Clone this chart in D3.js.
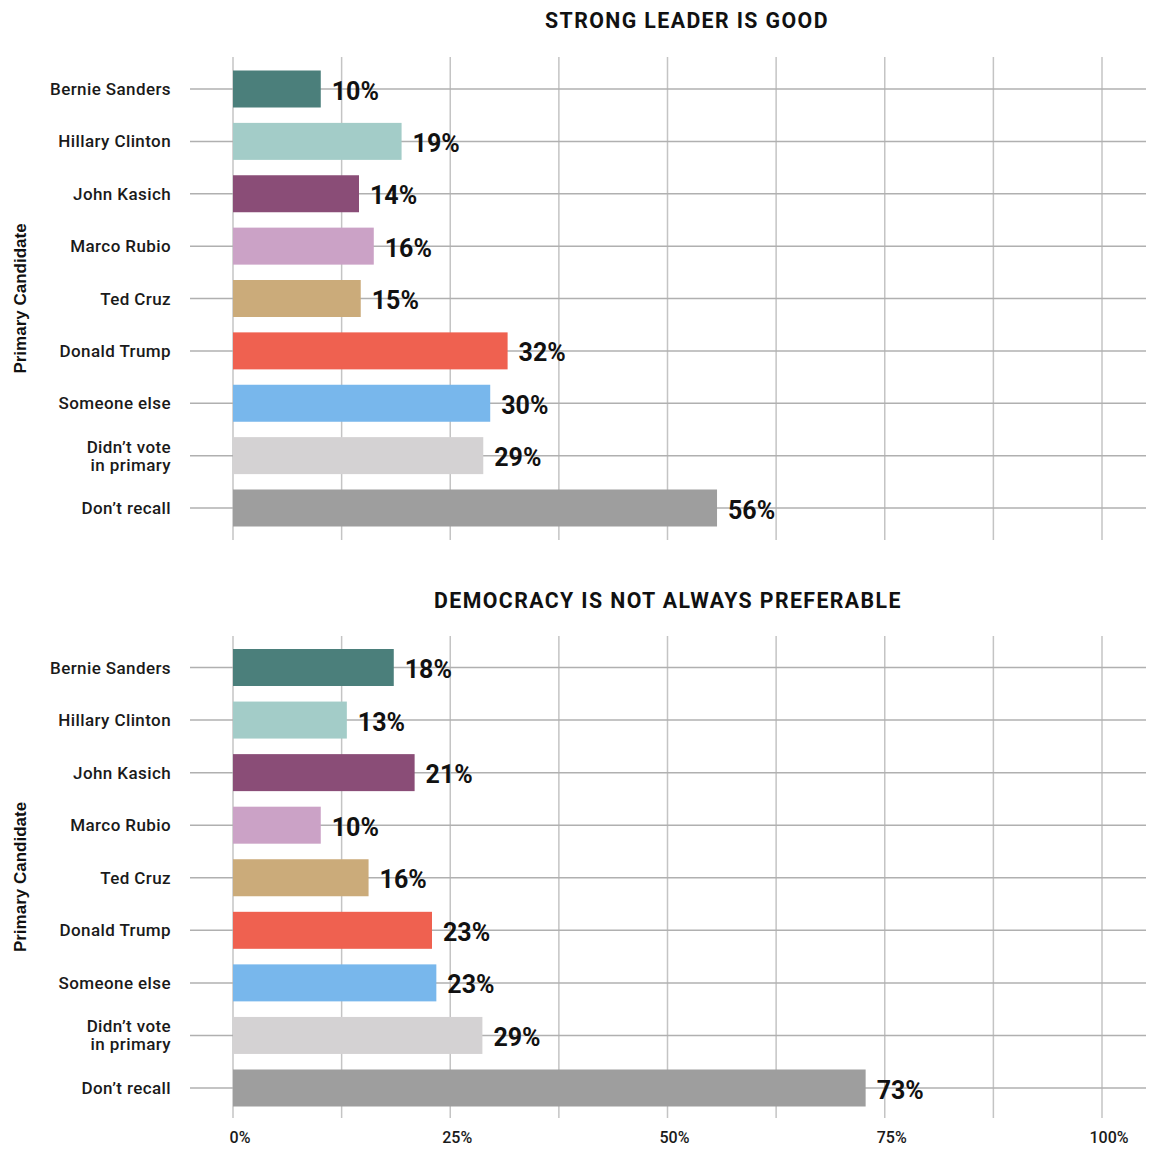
<!DOCTYPE html>
<html><head><meta charset="utf-8">
<script src="https://cdn.jsdelivr.net/npm/d3@7/dist/d3.min.js"></script>
<style>body{margin:0;background:#fff}svg{display:block}</style>
</head><body>
<svg id="c" width="1149" height="1152"></svg>
<script>
const categories = ["Bernie Sanders","Hillary Clinton","John Kasich","Marco Rubio","Ted Cruz","Donald Trump","Someone else","Didn’t vote\nin primary","Don’t recall"];
const colors = ["#4b7f7b","#a3ccc8","#8a4d77","#cba2c6","#cbab7a","#ef6150","#78b7ec","#d4d2d3","#9e9e9e"];
const strongLeader = [10.1,19.4,14.5,16.2,14.7,31.6,29.6,28.8,55.7];
const strongLeaderLabels = ["10%","19%","14%","16%","15%","32%","30%","29%","56%"];
const democracy = [18.5,13.1,20.9,10.1,15.6,22.9,23.4,28.7,72.8];
const democracyLabels = ["18%","13%","21%","10%","16%","23%","23%","29%","73%"];
const panelTitles = ["STRONG LEADER IS GOOD","DEMOCRACY IS NOT ALWAYS PREFERABLE"];
const tickValues = [0,25,50,75,100];
const tickLabels = ["0%","25%","50%","75%","100%"];
const gridValues = [0,12.5,25,37.5,50,62.5,75,87.5,100];

const svg = d3.select("#c");
const x = d3.scaleLinear().domain([0,100]).range([233,1102]);
const barH = 37;
const panels = [
  {title:panelTitles[0], values:strongLeader, labels:strongLeaderLabels, top:57, bottom:540, first:89, last:508, titleY:20, titleX:687},
  {title:panelTitles[1], values:democracy, labels:democracyLabels, top:636, bottom:1118, first:667.5, last:1088, titleY:600, titleX:668}
];
panels.forEach(p=>{
  const g = svg.append("g");
  const y = d3.scalePoint().domain(categories).range([p.first, p.last]);
  g.selectAll(".vg").data(gridValues).enter().append("line")
    .attr("x1",d=>x(d)).attr("x2",d=>x(d)).attr("y1",p.top).attr("y2",p.bottom)
    .attr("stroke","#c4c4c4").attr("stroke-width",1.5);
  g.selectAll(".hg").data(categories).enter().append("line")
    .attr("x1",190).attr("x2",1146)
    .attr("y1",d=>y(d)).attr("y2",d=>y(d))
    .attr("stroke","#b0b0b0").attr("stroke-width",1.5);
  g.selectAll(".bar").data(p.values).enter().append("rect")
    .attr("x",x(0)).attr("y",(d,i)=>y(categories[i])-barH/2)
    .attr("width",d=>x(d)-x(0)).attr("height",barH)
    .attr("fill",(d,i)=>colors[i]);
  g.selectAll(".vl").data(p.values).enter().append("text")
    .attr("x",d=>x(d)+11).attr("y",(d,i)=>y(categories[i])+2)
    .attr("dominant-baseline","central")
    .attr("font-family","Roboto").attr("font-weight","700").attr("font-size",25).attr("fill","#111")
    .text((d,i)=>p.labels[i]);
  categories.forEach((c,i)=>{
    const lines = c.split("\n");
    const cy = y(c);
    const t = g.append("text").attr("text-anchor","end")
      .attr("font-family","Roboto").attr("font-weight","500").attr("font-size",17).attr("fill","#1a1a1a")
      .attr("letter-spacing",0.4);
    lines.forEach((l,k)=>{
      t.append("tspan").attr("x",171).attr("y",cy+(k-(lines.length-1)/2)*18).attr("dominant-baseline","central").text(l);
    });
  });
  g.append("text").attr("x",p.titleX).attr("y",p.titleY).attr("text-anchor","middle").attr("dominant-baseline","central")
    .attr("font-family","Roboto").attr("font-weight","700").attr("font-size",21.3).attr("letter-spacing",1.4).attr("fill","#111")
    .text(p.title);
  g.append("text").attr("transform",`translate(20,${(p.top+p.bottom)/2}) rotate(-90)`)
    .attr("text-anchor","middle").attr("dominant-baseline","central")
    .attr("font-family","Liberation Sans, Arial").attr("font-weight","700").attr("font-size",17).attr("fill","#111")
    .text("Primary Candidate");
});
svg.append("g").selectAll("text").data(tickValues).enter().append("text")
  .attr("x",d=>x(d)+7).attr("y",1137).attr("text-anchor","middle").attr("dominant-baseline","central")
  .attr("font-family","Roboto").attr("font-weight","500").attr("font-size",16).attr("fill","#1a1a1a")
  .text((d,i)=>tickLabels[i]);
</script>
</body></html>
